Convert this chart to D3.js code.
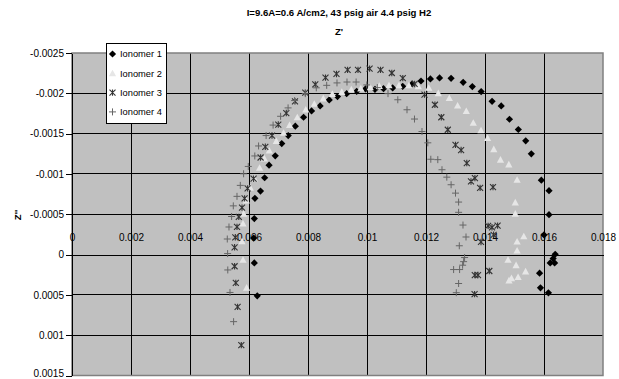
<!DOCTYPE html>
<html>
<head>
<meta charset="utf-8">
<script src="https://cdn.jsdelivr.net/npm/d3@7"></script>
<style>
  html, body { margin: 0; padding: 0; background: #fff; }
  svg { display: block; font-family: "Liberation Sans", Arial, sans-serif; }
</style>
</head>
<body>
<div id="chart"></div>
<script>
const ionomer1X = [0.00628,0.00618,0.00616,0.00618,0.00620,0.00639,0.00653,0.00668,0.00689,0.00711,0.00733,0.00757,0.00785,0.00812,0.00841,0.00872,0.00900,0.00931,0.00965,0.00995,0.01027,0.01056,0.01087,0.01121,0.01153,0.01183,0.01215,0.01246,0.01285,0.01326,0.01357,0.01387,0.01424,0.01455,0.01483,0.01513,0.01538,0.01557,0.01591,0.01617,0.01617,0.01600,0.01638,0.01631,0.01621,0.01636,0.01585,0.01588,0.01615];
const ionomer1Y = [0.000512,0.000104,-0.000205,-0.000446,-0.000697,-0.000787,-0.000953,-0.001109,-0.001225,-0.001377,-0.001476,-0.001592,-0.001703,-0.001782,-0.001844,-0.001918,-0.001959,-0.001996,-0.002025,-0.002054,-0.002050,-0.002058,-0.002067,-0.002087,-0.002116,-0.002153,-0.002178,-0.002191,-0.002186,-0.002136,-0.002083,-0.002021,-0.001901,-0.001844,-0.001678,-0.001551,-0.001411,-0.001250,-0.000923,-0.000792,-0.000495,-0.000243,-0.000004,0.000050,0.000104,0.000104,0.000231,0.000413,0.000475];

const ionomer2X = [0.005919,0.005797,0.005763,0.005797,0.005817,0.005908,0.006044,0.006180,0.006359,0.006519,0.006688,0.006925,0.007173,0.007376,0.007637,0.007925,0.008214,0.008519,0.008824,0.009146,0.009468,0.009790,0.010112,0.010417,0.010746,0.011085,0.011424,0.011739,0.012095,0.012417,0.012790,0.013071,0.013366,0.013603,0.013864,0.014088,0.014298,0.014525,0.014807,0.015088,0.015027,0.015027,0.015315,0.015088,0.015088,0.014780,0.015054,0.015376,0.015122,0.014898,0.014814];
const ionomer2Y = [0.000411,0.0000644,-0.000165,-0.000384,-0.000507,-0.000672,-0.000829,-0.000944,-0.001077,-0.001192,-0.001291,-0.001408,-0.001510,-0.001606,-0.001703,-0.001798,-0.001869,-0.001937,-0.001993,-0.002017,-0.002048,-0.002061,-0.002074,-0.002092,-0.002099,-0.002099,-0.002099,-0.002087,-0.002068,-0.002002,-0.001941,-0.001848,-0.001780,-0.001634,-0.001542,-0.001446,-0.001307,-0.001177,-0.001118,-0.000928,-0.000647,-0.000507,-0.000226,-0.000161,-0.0000495,0.0000644,0.000132,0.000209,0.000278,0.000293,0.000321];

const ionomer3X = [0.005739,0.005614,0.005553,0.005512,0.005512,0.005536,0.005593,0.005654,0.005763,0.005851,0.005953,0.006156,0.006393,0.006553,0.006780,0.006993,0.007264,0.007559,0.007908,0.008247,0.008593,0.008966,0.009342,0.009695,0.010088,0.010458,0.010841,0.011214,0.011614,0.011949,0.012302,0.012519,0.012739,0.013000,0.013190,0.013383,0.013525,0.013658,0.013834,0.014271,0.014105,0.014237,0.014427,0.014292,0.013864,0.014146,0.013654,0.013763,0.013647];
const ionomer3Y = [0.001123,0.000649,0.000351,0.000145,-0.0000903,-0.000214,-0.000344,-0.000468,-0.000582,-0.000697,-0.000821,-0.000941,-0.001204,-0.001337,-0.001476,-0.001613,-0.001755,-0.001901,-0.002009,-0.002111,-0.002194,-0.002240,-0.002291,-0.002291,-0.002306,-0.002291,-0.002252,-0.002188,-0.002116,-0.001984,-0.001858,-0.001703,-0.001548,-0.001361,-0.001296,-0.001135,-0.000907,-0.000948,-0.000827,-0.000837,-0.000356,-0.000338,-0.000359,-0.000245,-0.000156,0.000204,0.000254,0.000254,0.000491];

const ionomer4X = [0.005478,0.005356,0.005281,0.005275,0.005264,0.005322,0.005410,0.005468,0.005593,0.005705,0.005817,0.005976,0.006197,0.006325,0.006580,0.006817,0.007071,0.007325,0.007546,0.007908,0.008281,0.008634,0.008983,0.009322,0.009631,0.009993,0.010349,0.010712,0.011044,0.011356,0.011610,0.011864,0.012061,0.012163,0.012400,0.012542,0.012705,0.012851,0.013000,0.013105,0.013105,0.013254,0.013356,0.013129,0.013308,0.013275,0.013241,0.012936,0.013139,0.013105,0.013027];
const ionomer4Y = [0.000832,0.000470,0.000191,-0.0000124,-0.000193,-0.000342,-0.000472,-0.000604,-0.000722,-0.000858,-0.001002,-0.001093,-0.001223,-0.001347,-0.001476,-0.001606,-0.001715,-0.001819,-0.001910,-0.001996,-0.002068,-0.002099,-0.002129,-0.002140,-0.002140,-0.002104,-0.002071,-0.001996,-0.001920,-0.001796,-0.001681,-0.001526,-0.001386,-0.001182,-0.001177,-0.001052,-0.000960,-0.000866,-0.000762,-0.000651,-0.000524,-0.000366,-0.000218,-0.000109,0.0000371,0.0000879,0.000132,0.000186,0.000186,0.000359,0.000473];

const seriesNames = ['Ionomer 1', 'Ionomer 2', 'Ionomer 3', 'Ionomer 4'];
const xTicks = [0, 0.002, 0.004, 0.006, 0.008, 0.01, 0.012, 0.014, 0.016, 0.018];
const yTicks = [-0.0025, -0.002, -0.0015, -0.001, -0.0005, 0, 0.0005, 0.001, 0.0015];

const titleText = 'I=9.6A=0.6 A/cm2, 43 psig air 4.4 psig H2';

const W = 619, H = 379;
const plot = { left: 72, right: 603, top: 53, bottom: 375.5 };

const svg = d3.select('#chart').append('svg')
  .attr('width', W)
  .attr('height', H);

const x = d3.scaleLinear().domain([0, 0.018]).range([plot.left, plot.right]);
// y runs from negative (top) to positive (bottom)
const y = d3.scaleLinear().domain([-0.0025, 0.0015]).range([plot.top, plot.bottom]);

// plot background
svg.append('rect')
  .attr('x', plot.left).attr('y', plot.top)
  .attr('width', plot.right - plot.left)
  .attr('height', plot.bottom - plot.top)
  .attr('fill', '#c0c0c0');

// gridlines (the zero line is drawn by the x axis)
const grid = svg.append('g').attr('shape-rendering', 'crispEdges');
grid.selectAll('line.v')
  .data(xTicks.slice(1, -1))
  .join('line')
  .attr('x1', d => x(d)).attr('x2', d => x(d))
  .attr('y1', plot.top).attr('y2', plot.bottom)
  .attr('stroke', '#000');
grid.selectAll('line.h')
  .data(yTicks.slice(1, -1).filter(d => d !== 0))
  .join('line')
  .attr('x1', plot.left).attr('x2', plot.right)
  .attr('y1', d => y(d)).attr('y2', d => y(d))
  .attr('stroke', '#000');

// plot border
svg.append('rect')
  .attr('x', plot.left).attr('y', plot.top)
  .attr('width', plot.right - plot.left)
  .attr('height', plot.bottom - plot.top)
  .attr('fill', 'none')
  .attr('stroke', '#808080')
  .attr('stroke-width', 1.5);

// x axis sits on Z'' = 0, labels above it
const fmt = d => d === 0 ? '0' : String(+d.toPrecision(2));
svg.append('g')
  .attr('transform', `translate(0,${y(0)})`)
  .attr('shape-rendering', 'crispEdges')
  .call(d3.axisTop(x).tickValues(xTicks).tickFormat(fmt).tickSizeInner(0).tickSizeOuter(0).tickPadding(14))
  .call(g => g.select('.domain').attr('stroke', '#000'))
  .call(g => g.selectAll('text').attr('font-size', 10).attr('fill', '#000').attr('font-family', '"Liberation Sans", Arial, sans-serif'));

// y axis
svg.append('g')
  .attr('transform', `translate(${plot.left},0)`)
  .attr('shape-rendering', 'crispEdges')
  .call(d3.axisLeft(y).tickValues(yTicks).tickFormat(fmt).tickSizeInner(6).tickSizeOuter(0).tickPadding(2))
  .call(g => g.select('.domain').attr('stroke', '#000'))
  .call(g => g.selectAll('text').attr('font-size', 10).attr('fill', '#000').attr('font-family', '"Liberation Sans", Arial, sans-serif'))
  .call(g => g.selectAll('.tick text').filter(d => d === 0.0015).attr('dy', '0.1em'));

// titles
svg.append('text')
  .attr('x', 339).attr('y', 16)
  .attr('text-anchor', 'middle')
  .attr('font-size', 9.6).attr('font-weight', 'bold')
  .text(titleText);
svg.append('text')
  .attr('x', 339).attr('y', 35)
  .attr('text-anchor', 'middle')
  .attr('font-size', 9.6).attr('font-weight', 'bold')
  .text("Z'");
svg.append('text')
  .attr('transform', 'translate(21,215) rotate(-90)')
  .attr('text-anchor', 'middle')
  .attr('font-size', 9.6).attr('font-weight', 'bold')
  .text("Z''");

// marker shapes
const markers = [
  (cx, cy) => `M${cx},${cy - 3.6}L${cx + 3.6},${cy}L${cx},${cy + 3.6}L${cx - 3.6},${cy}Z`,
  (cx, cy) => `M${cx},${cy - 3.6}L${cx + 3.6},${cy + 3}L${cx - 3.6},${cy + 3}Z`,
  (cx, cy) => `M${cx - 3},${cy - 3}L${cx + 3},${cy + 3}M${cx - 3},${cy + 3}L${cx + 3},${cy - 3}M${cx},${cy - 3.2}L${cx},${cy + 3.2}`,
  (cx, cy) => `M${cx - 3.5},${cy}L${cx + 3.5},${cy}M${cx},${cy - 3.5}L${cx},${cy + 3.5}`
];
const markerStyle = [
  { fill: '#000', stroke: 'none', sw: 0 },
  { fill: '#e6e6e6', stroke: 'none', sw: 0 },
  { fill: 'none', stroke: '#333', sw: 1.1 },
  { fill: 'none', stroke: '#666', sw: 1 }
];

const series = [
  ionomer1X.map((v, i) => [v, ionomer1Y[i]]),
  ionomer2X.map((v, i) => [v, ionomer2Y[i]]),
  ionomer3X.map((v, i) => [v, ionomer3Y[i]]),
  ionomer4X.map((v, i) => [v, ionomer4Y[i]])
];

series.forEach((pts, si) => {
  const st = markerStyle[si];
  svg.append('g').selectAll('path')
    .data(pts)
    .join('path')
    .attr('d', d => markers[si](x(d[0]), y(d[1])))
    .attr('fill', st.fill)
    .attr('stroke', st.stroke)
    .attr('stroke-width', st.sw);
});

// legend
const legend = svg.append('g');
legend.append('rect')
  .attr('x', 106.5).attr('y', 43.5)
  .attr('width', 60).attr('height', 80)
  .attr('fill', '#fff')
  .attr('stroke', '#000');
seriesNames.forEach((name, i) => {
  const cy = 54 + i * 19.3;
  const st = markerStyle[i];
  legend.append('path')
    .attr('d', markers[i](112.5, cy))
    .attr('fill', st.fill)
    .attr('stroke', st.stroke)
    .attr('stroke-width', st.sw);
  legend.append('text')
    .attr('x', 120).attr('y', cy + 3.3)
    .attr('font-size', 9.3)
    .text(name);
});
</script>
</body>
</html>
